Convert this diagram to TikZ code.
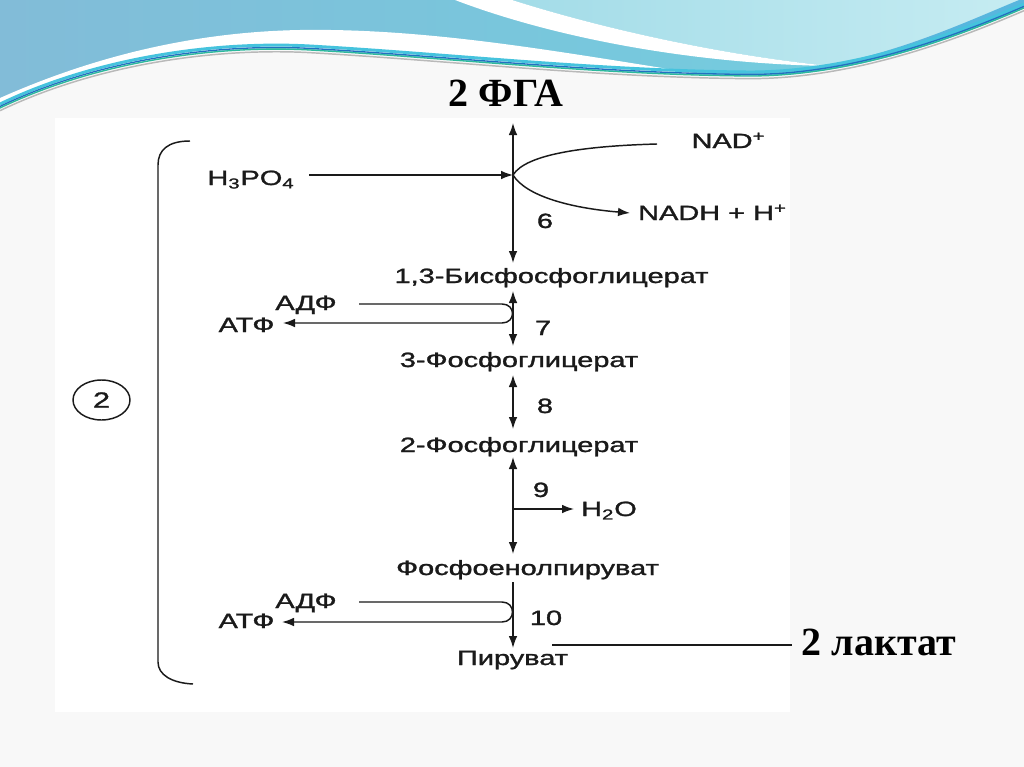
\documentclass[tikz,border=0pt]{standalone}
\usepackage{fontspec}
\setmainfont{Liberation Sans}
\newfontfamily\labfont{Liberation Sans}[FakeBold=1.2]
\newfontfamily\tnr{Liberation Serif}
\usetikzlibrary{arrows.meta,shapes.geometric}
\definecolor{slidebg}{HTML}{F8F8F8}
\definecolor{wvA}{HTML}{82BCD8}
\definecolor{wvB}{HTML}{70D0E0}
\definecolor{wvC}{HTML}{A3DCE8}
\definecolor{wvD}{HTML}{C6ECF2}
\definecolor{wvE}{HTML}{58B6DE}
\definecolor{lnblue}{HTML}{2270C0}
\definecolor{lngreen}{HTML}{2DBA9C}
\definecolor{lncyan}{HTML}{45C3DD}
\definecolor{ink}{HTML}{1A1A1A}
\newcommand\sx[1]{\scalebox{1.4}[1]{#1}}
\begin{document}
\begin{tikzpicture}[x=0.75pt,y=-0.75pt,
  lbl/.style={inner sep=0pt, anchor=base, text=ink, font=\labfont\fontsize{15.5}{18}\selectfont},
  big/.style={inner sep=0pt, anchor=base, font=\tnr\bfseries\fontsize{30}{34}\selectfont},
  ln/.style={line width=1.1pt, draw=ink},
  arr/.style={ln, -{Latex[length=9pt,width=6.5pt]}},
  darr/.style={ln, {Latex[length=9pt,width=6.5pt]}-{Latex[length=9pt,width=6.5pt]}}]
\useasboundingbox (0,0) rectangle (1024,767);
% slide background
\fill[slidebg] (0,0) rectangle (1024,767);
\fill[white] (55,118) rectangle (790,712);
% top wave
\shade[left color=wvA, right color=wvB] (0,0) -- (1024,0) -- (1024,8)
  .. controls (950,40) and (850,76) .. (750,76)
  .. controls (600,75) and (450,58) .. (310,50)
  .. controls (220,45) and (100,60) .. (0,108) -- cycle;
\shade[left color=wvC, right color=wvD] (512,0)
  .. controls (600,28) and (720,55) .. (830,66)
  .. controls (900,60) and (960,35) .. (1024,8) -- (1024,0) -- cycle;
\fill[wvE] (760,76) .. controls (860,74) and (950,40) .. (1024,8) -- (1024,-2)
  .. controls (960,24) and (880,64) .. (760,76) -- cycle;
\fill[white] (455,0) .. controls (560,40) and (700,64) .. (830,66)
  .. controls (720,55) and (600,28) .. (512,0) -- cycle;
\fill[white] (0,98) .. controls (90,58) and (190,32) .. (300,30)
  .. controls (430,28) and (560,52) .. (700,74)
  .. controls (560,70) and (440,56) .. (310,49)
  .. controls (220,44) and (100,60) .. (0,107) -- cycle;
\foreach \c/\w/\s in {lncyan/2.2pt/3pt, lnblue/1pt/1.2pt, lngreen/1pt/0pt, gray!55/1.1pt/-2pt}{
  \draw[color=\c, line width=\w, yshift=\s] (0,108)
    .. controls (100,60) and (220,45) .. (310,50)
    .. controls (450,58) and (600,75) .. (750,76)
    .. controls (850,76) and (950,40) .. (1024,8);
}
% titles
\node[big] (fga) at (506,107) {2 ФГА};
\node[big] (lact) at (879,655) {2 лактат};
% bracket and circle
\draw[ln] (190,141) .. controls (168,141) and (158,150) .. (158,165) -- (158,662)
  .. controls (158,675) and (172,683) .. (193,684);
\node[ellipse, ln, draw, minimum width=42.75pt, minimum height=30pt, inner sep=0pt,
  text=ink, font=\labfont\fontsize{16.5}{18}\selectfont] (c2) at (101.5,400) {\sx{2}};
% metabolites
\node[lbl] (bpg) at (551.5,283) {\sx{1,3-Бисфосфоглицерат}};
\node[lbl] (pg3) at (519,367) {\sx{3-Фосфоглицерат}};
\node[lbl] (pg2) at (519,452) {\sx{2-Фосфоглицерат}};
\node[lbl] (pep) at (527.5,575) {\sx{Фосфоенолпируват}};
\node[lbl] (pyr) at (512.5,665) {\sx{Пируват}};
\node[lbl] (h3po4) at (251,185) {\sx{H\textsubscript{3}PO\textsubscript{4}}};
\node[lbl] (nad) at (728.5,148) {\sx{NAD\textsuperscript{+}}};
\node[lbl] (nadh) at (712.5,220) {\sx{NADH + H\textsuperscript{+}}};
\node[lbl] (h2o) at (609,516) {\sx{H\textsubscript{2}O}};
\node[lbl] (adp1) at (306,310) {\sx{АДФ}};
\node[lbl] (atp1) at (246.5,332) {\sx{АТФ}};
\node[lbl] (adp2) at (306,608) {\sx{АДФ}};
\node[lbl] (atp2) at (246.5,628) {\sx{АТФ}};
\node[lbl] (n6) at (545,228) {\sx{6}};
\node[lbl] (n7) at (543,335) {\sx{7}};
\node[lbl] (n8) at (545,413) {\sx{8}};
\node[lbl] (n9) at (541,497) {\sx{9}};
\node[lbl] (n10) at (546,625) {\sx{10}};
% connector end points
\coordinate (a1t) at (513,123);
\coordinate (a1b) at (513,263);
\coordinate (vx) at (513,175);
\coordinate (h3s) at (309,175);
\coordinate (nads) at (657,144);
\coordinate (nadhe) at (630,213);
\coordinate (a2t) at (513,291);
\coordinate (a2b) at (513,346);
\coordinate (a3t) at (513,375);
\coordinate (a3b) at (513,429);
\coordinate (a4t) at (513,457);
\coordinate (a4b) at (513,554);
\coordinate (wb) at (513,509);
\coordinate (we) at (574,509);
\coordinate (a5t) at (513,582);
\coordinate (a5b) at (513,648);
\coordinate (l1s) at (359,304);
\coordinate (l1e) at (283,323);
\coordinate (l2s) at (359,602);
\coordinate (l2e) at (282,622);
\coordinate (ls) at (552,645);
\coordinate (le) at (792,645);
% step 6
\draw[darr] (a1t) -- (a1b);
\draw[arr] (h3s) -- (vx);
\draw[ln] (nads) .. controls (585,146) and (526,154) .. (vx);
\draw[arr] (vx) .. controls (526,196) and (570,208) .. (nadhe);
% step 7
\draw[darr] (a2t) -- (a2b);
\draw[arr] (l1s) -- (502,304) .. controls (516,304) and (516,323) .. (502,323) -- (l1e);
% step 8
\draw[darr] (a3t) -- (a3b);
% step 9
\draw[darr] (a4t) -- (a4b);
\draw[arr] (wb) -- (we);
% step 10
\draw[arr] (a5t) -- (a5b);
\draw[arr] (l2s) -- (502,602) .. controls (516,602) and (516,622) .. (502,622) -- (l2e);
% lactate line
\draw[ln] (ls) -- (le);
\end{tikzpicture}
\end{document}
